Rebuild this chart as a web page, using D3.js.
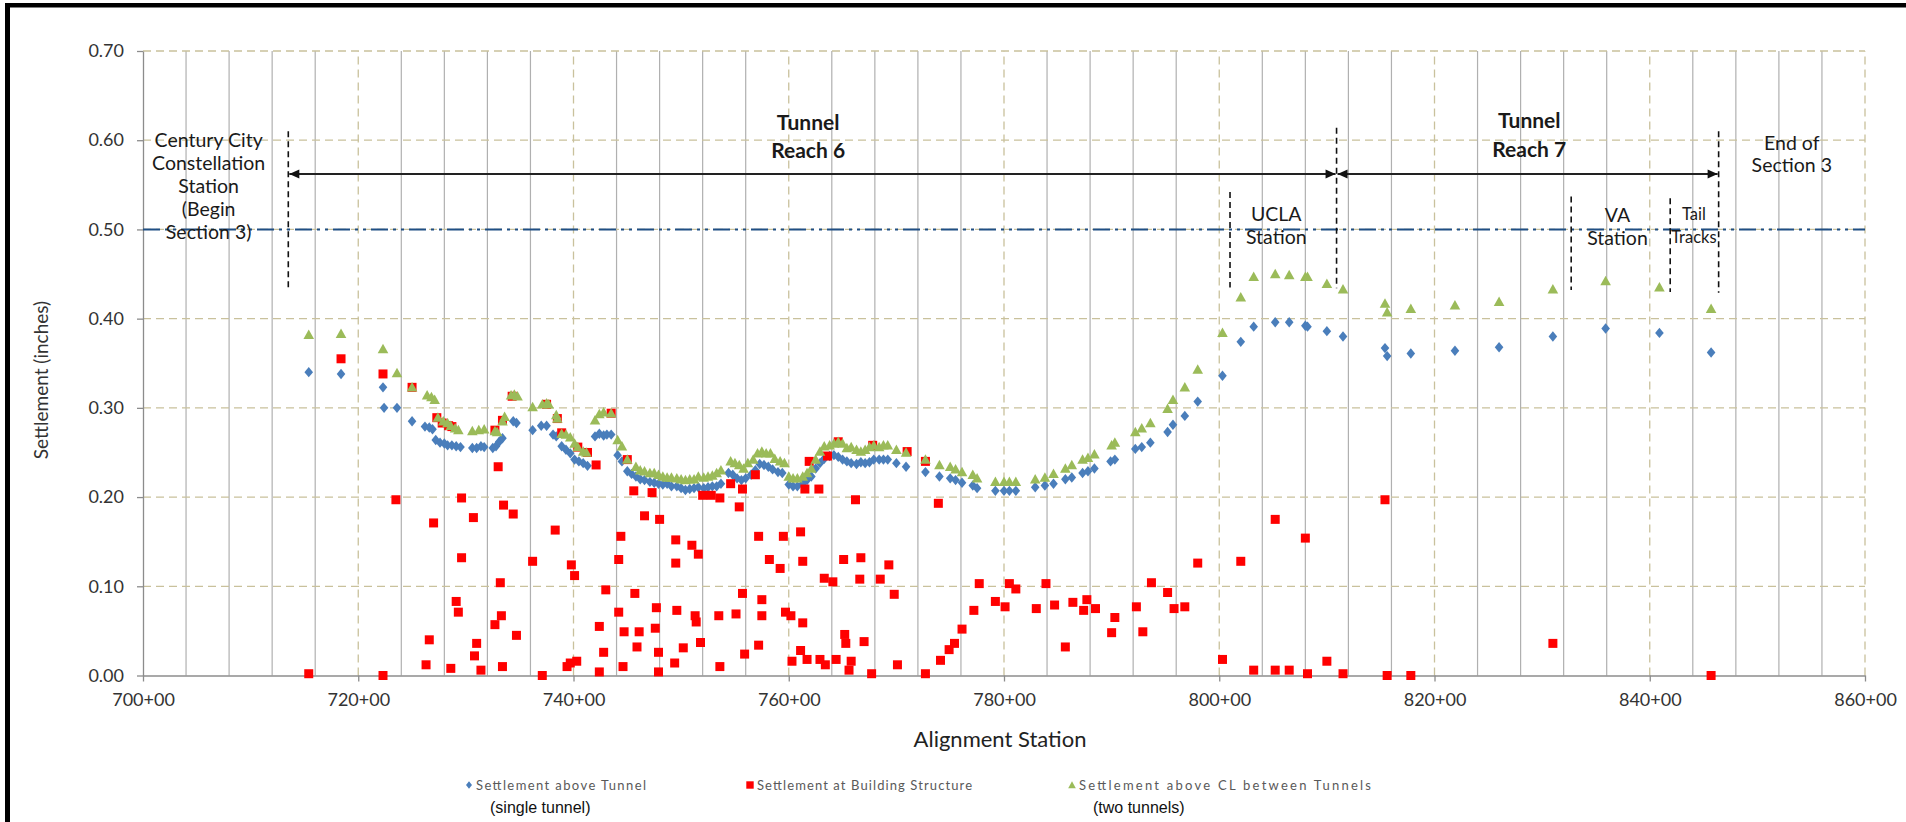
<!DOCTYPE html>
<html>
<head>
<meta charset="utf-8">
<script src="https://cdn.jsdelivr.net/npm/d3@7"></script>
<style>
  html, body { margin: 0; padding: 0; background: #fff; }
  svg { display: block; }
</style>
</head>
<body>
<svg id="chart" width="1906" height="822"></svg>
<script>
// ---- Axis ticks -------------------------------------------------------
const stationTicks = [700, 720, 740, 760, 780, 800, 820, 840, 860];
const minorStations = [704, 708, 712, 716, 724, 728, 732, 736, 744, 748, 752, 756, 764, 768, 772, 776,
                       784, 788, 792, 796, 804, 808, 812, 816, 824, 828, 832, 836, 844, 848, 852, 856];
const settlementTicks = [0, 0.1, 0.2, 0.3, 0.4, 0.5, 0.6, 0.7];
const thresholdLevel = 0.5;

// ---- Series: [station (hundreds of ft), settlement (in)] ---------------
const singleTunnel = [
  [715.4,0.340],[718.4,0.338],[722.3,0.323],[722.4,0.300],[723.6,0.300],[725.0,0.285],[726.2,0.279],
  [726.6,0.278],[726.9,0.276],[727.2,0.264],[727.6,0.261],[728.0,0.260],[728.3,0.258],[728.7,0.258],
  [729.1,0.257],[729.5,0.256],[730.6,0.255],[731.0,0.255],[731.4,0.257],[731.7,0.256],[732.5,0.255],
  [732.8,0.257],[733.1,0.262],[733.4,0.266],[734.4,0.285],[734.7,0.283],[736.2,0.275],[737.0,0.280],
  [737.5,0.280],[738.1,0.270],[738.4,0.268],[738.9,0.257],[739.3,0.253],[739.7,0.249],[740.1,0.242],
  [740.5,0.240],[740.9,0.238],[741.3,0.235],[742.0,0.268],[742.4,0.271],[742.8,0.269],[743.1,0.270],
  [743.5,0.270],[744.1,0.247],[744.5,0.240],[745.0,0.229],[745.4,0.226],[745.8,0.223],[746.2,0.220],
  [746.6,0.219],[747.1,0.217],[747.5,0.216],[747.9,0.215],[748.3,0.214],[748.7,0.215],[749.1,0.212],
  [749.6,0.212],[750.0,0.210],[750.4,0.208],[750.8,0.209],[751.2,0.210],[751.6,0.211],[752.1,0.210],
  [752.5,0.211],[752.9,0.212],[753.3,0.212],[753.7,0.215],[754.4,0.227],[754.8,0.225],[755.2,0.221],
  [755.6,0.219],[756.0,0.221],[756.5,0.225],[756.9,0.230],[757.3,0.237],[757.7,0.236],[758.1,0.234],
  [758.5,0.231],[759.0,0.228],[759.4,0.227],[760.0,0.214],[760.4,0.212],[760.8,0.212],[761.3,0.215],
  [761.7,0.219],[762.1,0.223],[762.5,0.232],[762.9,0.238],[763.3,0.243],[763.8,0.246],[764.2,0.247],
  [764.6,0.245],[765.0,0.242],[765.4,0.240],[765.8,0.238],[766.3,0.237],[766.7,0.239],[767.1,0.238],
  [767.5,0.239],[767.9,0.242],[768.4,0.242],[768.8,0.242],[769.2,0.242],[770.0,0.238],[770.9,0.234],
  [772.7,0.228],[774.0,0.223],[775.0,0.221],[775.5,0.219],[776.1,0.216],[777.1,0.213],[777.5,0.210],
  [779.2,0.207],[780.0,0.207],[780.5,0.207],[781.1,0.207],[782.9,0.211],[783.8,0.213],[784.6,0.215],
  [785.7,0.220],[786.3,0.222],[787.3,0.227],[787.8,0.229],[788.4,0.232],[789.9,0.240],[790.3,0.242],
  [792.2,0.254],[792.8,0.256],[793.6,0.261],[795.2,0.273],[795.7,0.281],[796.8,0.291],[798.0,0.307],
  [800.3,0.336],[802.0,0.374],[803.2,0.391],[805.2,0.396],[806.5,0.396],[808.0,0.392],[808.2,0.391],
  [810.0,0.386],[811.5,0.380],[815.4,0.367],[815.6,0.358],[817.8,0.361],[821.9,0.364],[826.0,0.368],
  [831.0,0.380],[835.9,0.389],[840.9,0.384],[845.7,0.362]
];

const buildingStructure = [
  [715.4,0.002],[718.4,0.355],[722.3,0.000],[722.3,0.338],[723.5,0.197],[725.0,0.323],[726.3,0.012],
  [726.6,0.040],[727.0,0.171],[727.3,0.289],[727.8,0.283],[728.4,0.280],[728.6,0.008],[728.7,0.279],
  [729.1,0.083],[729.3,0.071],[729.6,0.199],[729.6,0.132],[730.7,0.177],[730.8,0.022],[731.0,0.036],
  [731.4,0.006],[732.7,0.057],[732.7,0.275],[733.0,0.234],[733.2,0.104],[733.3,0.067],[733.4,0.010],
  [733.4,0.286],[733.5,0.191],[734.3,0.313],[734.4,0.181],[734.7,0.045],[736.2,0.128],[737.1,0.000],
  [737.5,0.304],[738.3,0.163],[738.5,0.288],[738.9,0.272],[739.4,0.010],[739.7,0.014],[739.8,0.124],
  [740.1,0.112],[740.3,0.016],[740.4,0.256],[741.3,0.250],[742.1,0.236],[742.4,0.055],[742.4,0.004],
  [742.8,0.026],[743.0,0.096],[743.5,0.294],[744.2,0.071],[744.2,0.130],[744.4,0.156],[744.6,0.010],
  [744.7,0.049],[745.0,0.242],[745.6,0.207],[745.7,0.092],[745.9,0.032],[746.1,0.049],[746.6,0.179],
  [747.3,0.205],[747.6,0.053],[747.7,0.076],[747.9,0.026],[747.9,0.004],[748.0,0.175],[749.4,0.014],
  [749.5,0.152],[749.5,0.126],[749.6,0.073],[750.2,0.031],[751.0,0.146],[751.3,0.067],[751.4,0.060],
  [751.6,0.136],[751.8,0.037],[752.0,0.202],[752.8,0.202],[753.5,0.067],[753.6,0.199],[753.6,0.010],
  [754.6,0.215],[755.1,0.069],[755.4,0.189],[755.7,0.209],[755.7,0.092],[755.9,0.024],[756.9,0.225],
  [757.2,0.156],[757.2,0.034],[757.5,0.085],[757.5,0.067],[758.2,0.130],[759.2,0.120],[759.5,0.156],
  [759.7,0.071],[760.2,0.067],[760.3,0.016],[761.1,0.161],[761.1,0.028],[761.3,0.128],[761.3,0.059],
  [761.5,0.209],[761.7,0.018],[761.9,0.240],[762.8,0.209],[762.9,0.018],[763.3,0.109],[763.4,0.012],
  [763.6,0.246],[764.1,0.105],[764.4,0.018],[764.6,0.262],[765.1,0.130],[765.2,0.046],[765.3,0.036],
  [765.6,0.006],[765.8,0.016],[766.2,0.197],[766.6,0.108],[766.7,0.132],[767.0,0.038],[767.7,0.002],
  [767.8,0.258],[768.5,0.108],[769.3,0.124],[769.8,0.091],[770.1,0.012],[771.0,0.251],[772.7,0.002],
  [772.7,0.240],[773.9,0.193],[774.1,0.017],[774.9,0.029],[775.4,0.036],[776.1,0.052],[777.2,0.073],
  [777.7,0.103],[779.2,0.083],[780.1,0.077],[780.5,0.103],[781.1,0.097],[783.0,0.075],[783.9,0.103],
  [784.7,0.079],[785.7,0.032],[786.4,0.082],[787.4,0.073],[787.7,0.085],[788.5,0.075],[790.0,0.048],
  [790.3,0.065],[792.3,0.077],[792.9,0.049],[793.7,0.104],[795.2,0.093],[795.8,0.075],[796.8,0.077],
  [798.0,0.126],[800.3,0.018],[802.0,0.128],[803.2,0.006],[805.2,0.175],[805.2,0.006],[806.5,0.006],
  [808.0,0.154],[808.2,0.002],[810.0,0.016],[811.5,0.002],[815.4,0.197],[815.6,0.000],[817.8,0.000],
  [831.0,0.036],[845.7,0.000]
];

const betweenTunnels = [
  [715.4,0.382],[718.4,0.383],[722.3,0.366],[723.6,0.339],[725.0,0.323],[726.4,0.314],[726.8,0.312],
  [727.1,0.309],[727.4,0.289],[727.9,0.285],[728.3,0.283],[728.6,0.280],[729.0,0.277],[729.3,0.275],
  [730.6,0.274],[731.2,0.275],[731.7,0.276],[732.7,0.274],[732.9,0.273],[733.4,0.285],[733.6,0.290],
  [734.2,0.314],[734.5,0.315],[734.8,0.313],[736.2,0.301],[737.1,0.304],[737.5,0.305],[737.7,0.304],
  [738.4,0.292],[738.5,0.288],[738.9,0.271],[739.3,0.270],[739.7,0.267],[740.1,0.260],[740.4,0.256],
  [740.9,0.251],[741.2,0.250],[742.0,0.286],[742.4,0.293],[742.8,0.295],[743.5,0.294],[744.1,0.264],
  [744.5,0.257],[745.0,0.242],[745.8,0.234],[746.2,0.230],[746.6,0.229],[747.1,0.227],[747.5,0.227],
  [747.9,0.225],[748.3,0.223],[748.7,0.222],[749.1,0.222],[749.6,0.221],[750.0,0.220],[750.4,0.219],
  [750.8,0.220],[751.2,0.220],[751.6,0.223],[752.1,0.222],[752.5,0.223],[752.9,0.224],[753.3,0.227],
  [753.7,0.230],[754.6,0.240],[755.0,0.238],[755.4,0.236],[755.8,0.232],[756.2,0.238],[756.7,0.242],
  [757.1,0.249],[757.5,0.251],[757.9,0.249],[758.3,0.249],[758.7,0.243],[759.2,0.240],[759.6,0.238],
  [760.0,0.223],[760.4,0.221],[760.8,0.221],[761.3,0.223],[761.7,0.227],[762.1,0.232],[762.5,0.242],
  [762.9,0.251],[763.3,0.257],[763.8,0.258],[764.2,0.260],[764.6,0.262],[765.0,0.260],[765.4,0.255],
  [765.8,0.256],[766.3,0.253],[766.7,0.251],[767.1,0.253],[767.5,0.256],[767.9,0.258],[768.4,0.256],
  [768.8,0.258],[769.2,0.258],[770.0,0.253],[770.9,0.250],[772.7,0.242],[774.0,0.236],[775.0,0.234],
  [775.5,0.231],[776.1,0.228],[777.1,0.225],[777.5,0.221],[779.2,0.217],[780.0,0.217],[780.5,0.217],
  [781.1,0.217],[782.9,0.220],[783.8,0.222],[784.6,0.226],[785.7,0.232],[786.3,0.236],[787.3,0.242],
  [787.8,0.244],[788.4,0.248],[790.0,0.258],[790.3,0.261],[792.2,0.273],[792.8,0.277],[793.6,0.283],
  [795.2,0.299],[795.7,0.309],[796.8,0.323],[798.0,0.343],[800.3,0.384],[802.0,0.424],[803.2,0.447],
  [805.2,0.450],[806.5,0.449],[808.0,0.447],[808.2,0.447],[810.0,0.439],[811.5,0.433],[815.4,0.417],
  [815.6,0.407],[817.8,0.411],[821.9,0.415],[826.0,0.419],[831.0,0.433],[835.9,0.442],[840.9,0.435],
  [845.7,0.411]
];

// ---- Section / station annotations (station, settlement units) ---------
const sectionBreaks = [[713.5, 0.610, 0.434], [810.9, 0.614, 0.434], [846.4, 0.610, 0.429]];
const stationBreaks = [[801.0, 0.542, 0.435], [832.7, 0.537, 0.432], [841.9, 0.535, 0.430]];
const reaches = [[713.5, 810.9, 0.562], [810.9, 846.4, 0.562]];
const noteLines = [
  { station: 706.1, level: 0.6003, step: 22.8, bold: false, size: 19.5, lines: ["Century City", "Constellation", "Station", "(Begin", "Section 3)"] },
  { station: 761.8, level: 0.6208, step: 28.3, bold: true,  size: 21,   lines: ["Tunnel", "Reach 6"] },
  { station: 828.8, level: 0.6227, step: 28.3, bold: true,  size: 21,   lines: ["Tunnel", "Reach 7"] },
  { station: 853.2, level: 0.5969, step: 22.0, bold: false, size: 19.5, lines: ["End of", "Section 3"] },
  { station: 805.3, level: 0.5184, step: 23.0, bold: false, size: 19.5, lines: ["UCLA", "Station"] },
  { station: 837.0, level: 0.5162, step: 22.5, bold: false, size: 19.5, lines: ["VA", "Station"] },
  { station: 844.1, level: 0.5173, step: 23.0, bold: false, size: 16.5, lines: ["Tail", "Tracks"] }
];
const legendNames = ["Settlement above Tunnel", "Settlement at Building Structure", "Settlement above CL between Tunnels"];
const legendNotes = ["(single tunnel)", "", "(two tunnels)"];

// ---- Drawing -----------------------------------------------------------
const svg = d3.select("#chart");
const FONT = "Lato, 'Open Sans', sans-serif";
const x = d3.scaleLinear().domain([700, 860]).range([143, 1865]);
const y = d3.scaleLinear().domain([0, 0.7]).range([675.5, 51]);

svg.append("rect").attr("width", 1906).attr("height", 822).attr("fill", "#fff");

// frame (top and left edges)
svg.append("rect").attr("x", 5).attr("y", 3).attr("width", 1901).attr("height", 4.5).attr("fill", "#000");
svg.append("rect").attr("x", 5).attr("y", 3).attr("width", 5).attr("height", 819).attr("fill", "#000");

const grid = svg.append("g");
// minor vertical grid (solid grey)
grid.selectAll("line.minor").data(minorStations).join("line")
  .attr("x1", d => x(d)).attr("x2", d => x(d))
  .attr("y1", y(0)).attr("y2", y(0.7))
  .attr("stroke", "#b0b0b0").attr("stroke-width", 1.2);
// major vertical grid (dashed tan)
grid.selectAll("line.major").data(stationTicks.slice(1)).join("line")
  .attr("x1", d => x(d)).attr("x2", d => x(d))
  .attr("y1", y(0)).attr("y2", y(0.7))
  .attr("stroke", "#c9c19c").attr("stroke-width", 1.3).attr("stroke-dasharray", "8,5");
// horizontal grid (dashed tan)
grid.selectAll("line.h").data(settlementTicks.slice(1)).join("line")
  .attr("x1", x(700)).attr("x2", x(860))
  .attr("y1", d => y(d)).attr("y2", d => y(d))
  .attr("stroke", "#c9c19c").attr("stroke-width", 1.3).attr("stroke-dasharray", "8,5");

// axes
const xAxis = d3.axisBottom(x).tickValues(stationTicks).tickSize(6).tickSizeOuter(0).tickPadding(12)
  .tickFormat(d => d + "+00");
const yAxis = d3.axisLeft(y).tickValues(settlementTicks).tickSize(6).tickSizeOuter(0).tickPadding(13)
  .tickFormat(d3.format(".2f"));
const gx = svg.append("g").attr("transform", `translate(0,${y(0)})`).call(xAxis);
const gy = svg.append("g").attr("transform", `translate(${x(700)},0)`).call(yAxis);
[gx, gy].forEach(g => {
  g.select(".domain").attr("stroke", "#8c8c8c").attr("stroke-width", 1.3);
  g.selectAll(".tick line").attr("stroke", "#8c8c8c").attr("stroke-width", 1.3);
  g.selectAll(".tick text").attr("font-family", FONT).attr("font-size", 18).attr("fill", "#333");
});

// 0.50 in threshold line
svg.append("line")
  .attr("x1", x(700)).attr("x2", x(860))
  .attr("y1", y(thresholdLevel)).attr("y2", y(thresholdLevel))
  .attr("stroke", "#1f4e84").attr("stroke-width", 2)
  .attr("stroke-dasharray", "17,5,3,5,3,5");

// axis titles
svg.append("text").attr("x", 1000).attr("y", 738).attr("text-anchor", "middle")
  .attr("dominant-baseline", "central").attr("font-family", FONT).attr("font-size", 22)
  .attr("fill", "#222").text("Alignment Station");
svg.append("text").attr("transform", "translate(40,380) rotate(-90)").attr("text-anchor", "middle")
  .attr("dominant-baseline", "central").attr("font-family", FONT).attr("font-size", 19)
  .attr("fill", "#333").text("Settlement (inches)");

// arrowheads
const defs = svg.append("defs");
defs.append("marker").attr("id", "arrow").attr("viewBox", "0 0 10 10")
  .attr("refX", 10).attr("refY", 5).attr("markerWidth", 11).attr("markerHeight", 10)
  .attr("markerUnits", "userSpaceOnUse").attr("orient", "auto-start-reverse")
  .append("path").attr("d", "M0,0.5L10,5L0,9.5Z").attr("fill", "#111");

const notes = svg.append("g");
notes.selectAll("line.sec").data(sectionBreaks.concat(stationBreaks)).join("line")
  .attr("x1", d => x(d[0])).attr("x2", d => x(d[0]))
  .attr("y1", d => y(d[1])).attr("y2", d => y(d[2]))
  .attr("stroke", "#111").attr("stroke-width", 1.6).attr("stroke-dasharray", "6,4");
notes.selectAll("line.reach").data(reaches).join("line")
  .attr("x1", d => x(d[0]) + 1).attr("x2", d => x(d[1]) - 1)
  .attr("y1", d => y(d[2])).attr("y2", d => y(d[2]))
  .attr("stroke", "#222").attr("stroke-width", 2)
  .attr("marker-start", "url(#arrow)").attr("marker-end", "url(#arrow)");

noteLines.forEach(n => {
  const t = notes.append("text").attr("text-anchor", "middle").attr("font-family", FONT)
    .attr("font-size", n.size).attr("font-weight", n.bold ? 700 : 400).attr("fill", "#1a1a1a");
  n.lines.forEach((s, i) => {
    t.append("tspan").attr("x", x(n.station)).attr("y", y(n.level) + i * n.step)
      .attr("dominant-baseline", "central").text(s);
  });
});

// markers
const diamond = "M0,-5.2L4.3,0L0,5.2L-4.3,0Z";
const square = "M-4.5,-4.5H4.5V4.5H-4.5Z";
const triangle = "M0,-5.3L5.3,4.2L-5.3,4.2Z";
const plot = svg.append("g");
plot.selectAll("path.s1").data(singleTunnel).join("path")
  .attr("d", diamond).attr("transform", d => `translate(${x(d[0])},${y(d[1])})`)
  .attr("fill", "#4a7ebb");
plot.selectAll("path.s2").data(buildingStructure).join("path")
  .attr("d", square).attr("transform", d => `translate(${x(d[0])},${y(d[1])})`)
  .attr("fill", "#ff0000");
plot.selectAll("path.s3").data(betweenTunnels).join("path")
  .attr("d", triangle).attr("transform", d => `translate(${x(d[0])},${y(d[1])})`)
  .attr("fill", "#9bbb59");

// legend
const legendX = [469, 750, 1072];
const legendWidths = [170, 215, 292];
const legendShapes = [
  { d: "M0,-3.8L3,0L0,3.8L-3,0Z", fill: "#4a7ebb" },
  { d: "M-3.7,-3.7H3.7V3.7H-3.7Z", fill: "#ff0000" },
  { d: "M0,-3.8L3.8,3.2H-3.8Z", fill: "#9bbb59" }
];
const legend = svg.append("g");
legendNames.forEach((name, i) => {
  legend.append("path").attr("d", legendShapes[i].d).attr("fill", legendShapes[i].fill)
    .attr("transform", `translate(${legendX[i]},785)`);
  legend.append("text").attr("x", legendX[i] + 7).attr("y", 785).attr("dominant-baseline", "central")
    .attr("font-family", FONT).attr("font-size", 13)
    .attr("textLength", legendWidths[i]).attr("lengthAdjust", "spacing")
    .attr("fill", "#595959").text(name);
  if (legendNotes[i]) {
    legend.append("text").attr("x", legendX[i] + 21).attr("y", 807).attr("dominant-baseline", "central")
      .attr("font-family", "'Liberation Sans Narrow', 'Liberation Sans', Arial, sans-serif")
      .attr("font-size", 16).attr("fill", "#111").text(legendNotes[i]);
  }
});
</script>
</body>
</html>
